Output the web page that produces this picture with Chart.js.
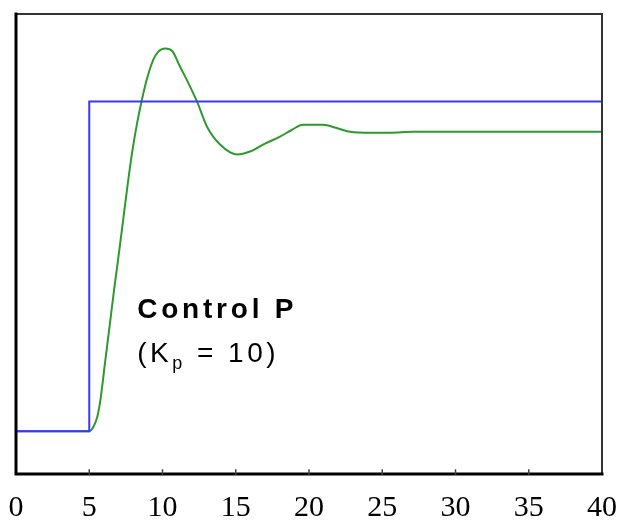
<!DOCTYPE html>
<html>
<head>
<meta charset="utf-8">
<script src="https://cdn.jsdelivr.net/npm/chart.js@4"></script>
<style>
  html, body { margin: 0; padding: 0; background: #fff; }
  #wrap { width: 617px; height: 520px; }
</style>
</head>
<body>
<div id="wrap"><canvas id="chart" width="617" height="520"></canvas></div>
<script>
// setpoint (step at t = 5)
const stepX = [0, 5, 5, 40];
const stepY = [0, 0, 1, 1];

// P-controller response
const respX = [0, 5, 5.27, 5.54, 5.75, 6.09, 6.43, 6.70, 6.97, 7.32, 7.59, 7.93, 8.27, 8.61, 8.95, 9.36, 9.70, 10.18,
  10.66, 11.20, 11.75, 12.36, 13.04, 13.93, 15.09, 15.97, 17.00, 18.02, 18.84, 19.59, 20.95, 21.84, 22.79,
  24.16, 25.52, 27.09, 40];
const respY = [0, 0, 0.012, 0.042, 0.091, 0.212, 0.333, 0.430, 0.521, 0.642, 0.737, 0.846, 0.935, 1.008, 1.070, 1.125, 1.150, 1.160,
  1.153, 1.105, 1.057, 0.999, 0.923, 0.869, 0.839, 0.848, 0.872, 0.893, 0.914, 0.929, 0.929, 0.920, 0.908,
  0.905, 0.905, 0.908, 0.908];

const xTicks = [0, 5, 10, 15, 20, 25, 30, 35, 40];

const toPoints = (xs, ys) => xs.map((x, i) => ({ x: x, y: ys[i] }));

// frame round the plot area plus small inward ticks on the bottom axis
const framePlugin = {
  id: "frame",
  afterDatasetsDraw(chart) {
    const { ctx, chartArea: a } = chart;
    const xs = chart.scales.x;
    ctx.save();
    ctx.lineCap = "square";
    ctx.strokeStyle = "#333";
    ctx.lineWidth = 2;
    ctx.beginPath();
    ctx.moveTo(a.left, a.top);
    ctx.lineTo(a.right, a.top);
    ctx.lineTo(a.right, a.bottom);
    ctx.stroke();
    ctx.strokeStyle = "#000";
    ctx.lineWidth = 3;
    ctx.beginPath();
    ctx.moveTo(a.left, a.top);
    ctx.lineTo(a.left, a.bottom);
    ctx.lineTo(a.right, a.bottom);
    ctx.stroke();
    ctx.lineWidth = 1.5;
    ctx.strokeStyle = "#444";
    xTicks.slice(1, -1).forEach((t) => {
      const px = xs.getPixelForValue(t);
      ctx.beginPath();
      ctx.moveTo(px, a.bottom);
      ctx.lineTo(px, a.bottom - 4);
      ctx.stroke();
    });
    ctx.restore();
  },
};

// "Control P (Kp = 10)" label
const labelPlugin = {
  id: "label",
  afterDatasetsDraw(chart) {
    const { ctx } = chart;
    const xs = chart.scales.x;
    const ys = chart.scales.y;
    const x0 = xs.getPixelForValue(8.27);
    ctx.save();
    ctx.fillStyle = "#000";
    ctx.textBaseline = "alphabetic";
    ctx.letterSpacing = "3.8px";
    ctx.font = 'bold 28px "Liberation Sans", Arial, sans-serif';
    ctx.fillText("Control P", x0, ys.getPixelForValue(0.342));
    const y2 = ys.getPixelForValue(0.209);
    ctx.letterSpacing = "3.5px";
    ctx.font = '28px "Liberation Sans", Arial, sans-serif';
    let x = x0;
    ctx.fillText("(K", x, y2);
    x += ctx.measureText("(K").width;
    ctx.font = '18px "Liberation Sans", Arial, sans-serif';
    ctx.fillText("p", x, y2 + 7);
    x += ctx.measureText("p").width;
    ctx.font = '28px "Liberation Sans", Arial, sans-serif';
    ctx.fillText(" = 10)", x, y2);
    ctx.restore();
  },
};

new Chart(document.getElementById("chart"), {
  type: "line",
  data: {
    datasets: [
      {
        label: "Setpoint",
        data: toPoints(stepX, stepY),
        borderColor: "#3838ff",
        borderWidth: 2,
        pointRadius: 0,
        tension: 0,
        order: 0,
      },
      {
        label: "Response",
        data: toPoints(respX, respY),
        borderColor: "#2e9a2e",
        borderWidth: 2,
        pointRadius: 0,
        cubicInterpolationMode: "monotone",
        order: 1,
      },
    ],
  },
  options: {
    responsive: false,
    animation: false,
    layout: { padding: { left: 16, right: 15, top: 14, bottom: 0 } },
    plugins: {
      legend: { display: false },
      tooltip: { enabled: false },
    },
    scales: {
      x: {
        type: "linear",
        min: 0,
        max: 40,
        grid: { display: false, drawTicks: false },
        border: { display: false },
        afterFit(scale) {
          scale.height = 46;
          scale.paddingLeft = 0;
          scale.paddingRight = 0;
        },
        afterBuildTicks(scale) { scale.ticks = xTicks.map((v) => ({ value: v })); },
        ticks: {
          color: "#000",
          padding: 16,
          maxRotation: 0,
          font: { family: '"Liberation Serif", "Times New Roman", serif', size: 30 },
        },
      },
      y: {
        type: "linear",
        min: -0.13,
        max: 1.265,
        display: false,
      },
    },
  },
  plugins: [framePlugin, labelPlugin],
});
</script>
</body>
</html>
